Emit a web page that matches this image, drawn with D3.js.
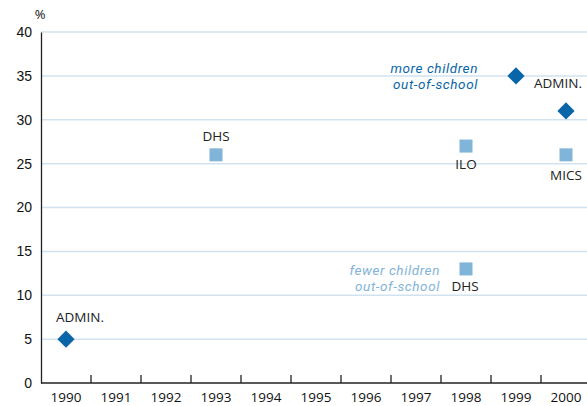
<!DOCTYPE html>
<html>
<head>
<meta charset="utf-8">
<script src="https://cdn.jsdelivr.net/npm/d3@7"></script>
<style>
  body { margin: 0; background: #fff; }
  svg { display: block; font-family: "Open Sans", "Noto Sans", sans-serif; }
</style>
</head>
<body>
<svg class="chart" width="587" height="406"></svg>
<script>
const years = [1990, 1991, 1992, 1993, 1994, 1995, 1996, 1997, 1998, 1999, 2000];
const yTicks = [0, 5, 10, 15, 20, 25, 30, 35, 40];

// admin data (diamonds)
const adminPoints = [
  { year: 1990, value: 5, label: "ADMIN.", dx: 14, dy: -17 },
  { year: 1999, value: 35, label: "", dx: 0, dy: 0 },
  { year: 2000, value: 31, label: "ADMIN.", dx: -8, dy: -23 }
];
// household surveys (squares)
const surveyPoints = [
  { year: 1993, value: 26, label: "DHS", dx: 0, dy: -14 },
  { year: 1998, value: 27, label: "ILO", dx: 0, dy: 23 },
  { year: 1998, value: 13, label: "DHS", dx: -1, dy: 22 },
  { year: 2000, value: 26, label: "MICS", dx: 0, dy: 25 }
];

const notes = [
  { x: 478, y: 73, lines: ["more children", "out-of-school"], cls: "dark" },
  { x: 440, y: 275, lines: ["fewer children", "out-of-school"], cls: "light" }
];

const dark = "#0866a8";
const light = "#80b4d8";

const svg = d3.select(".chart");
const margin = { top: 32, left: 41, bottom: 23 };
const h = 406;

const x = d3.scaleBand().domain(years).range([margin.left, margin.left + 50 * years.length]);
const y = d3.scaleLinear().domain([0, 40]).range([h - margin.bottom, margin.top]);

// grid
svg.append("g")
  .selectAll("line")
  .data(yTicks.filter(d => d > 0))
  .join("line")
  .attr("x1", margin.left).attr("x2", 587)
  .attr("y1", d => y(d)).attr("y2", d => y(d))
  .attr("stroke", "#d2e3ef").attr("stroke-width", 1.5);

// y axis
const yAxis = svg.append("g")
  .attr("transform", `translate(${margin.left},0)`)
  .call(d3.axisLeft(y).tickValues(yTicks).tickSize(0).tickPadding(9));
yAxis.select(".domain").attr("stroke", "#222").attr("stroke-width", 1.3);
yAxis.selectAll("text").attr("font-size", 14).attr("fill", "#111").attr("font-family", null);

svg.append("text").attr("x", 40).attr("y", 19).attr("text-anchor", "middle")
  .attr("font-size", 13).attr("fill", "#111").text("%");

// x axis
const xAxis = svg.append("g").attr("transform", `translate(0,${y(0)})`);
xAxis.append("line").attr("x1", margin.left).attr("x2", 587)
  .attr("stroke", "#222").attr("stroke-width", 1.3);
xAxis.selectAll(".tk")
  .data(years.slice(1))
  .join("line")
  .attr("class", "tk")
  .attr("x1", d => x(d)).attr("x2", d => x(d))
  .attr("y1", 0).attr("y2", -8)
  .attr("stroke", "#222").attr("stroke-width", 1.3);
xAxis.selectAll("text")
  .data(years)
  .join("text")
  .attr("x", d => x(d) + x.bandwidth() / 2)
  .attr("y", 18.5)
  .attr("text-anchor", "middle")
  .attr("font-size", 13.5).attr("fill", "#111")
  .text(d => d);

const cx = d => x(d.year) + x.bandwidth() / 2;

// diamonds
svg.append("g")
  .selectAll("path")
  .data(adminPoints)
  .join("path")
  .attr("d", d3.symbol(d3.symbolSquare, 148))
  .attr("transform", d => `translate(${cx(d)},${y(d.value)}) rotate(45)`)
  .attr("fill", dark);

// squares
svg.append("g")
  .selectAll("rect")
  .data(surveyPoints)
  .join("rect")
  .attr("x", d => cx(d) - 6.5).attr("y", d => y(d.value) - 6.5)
  .attr("width", 13).attr("height", 13)
  .attr("fill", light);

// point labels
svg.append("g")
  .selectAll("text")
  .data(adminPoints.concat(surveyPoints).filter(d => d.label))
  .join("text")
  .attr("x", d => cx(d) + d.dx)
  .attr("y", d => y(d.value) + d.dy)
  .attr("text-anchor", "middle")
  .attr("font-size", 13.5).attr("fill", "#222")
  .text(d => d.label);

// notes, one text per line
notes.forEach(n => {
  svg.append("g")
    .selectAll("text")
    .data(n.lines)
    .join("text")
    .attr("x", n.x)
    .attr("y", (d, i) => n.y + i * 15.5)
    .attr("text-anchor", "end")
    .attr("font-family", "Roboto, sans-serif")
    .attr("font-style", "italic")
    .attr("font-size", 13.5)
    .attr("letter-spacing", 0.6)
    .attr("fill", n.cls == "dark" ? dark : light)
    .text(d => d);
});
</script>
</body>
</html>
